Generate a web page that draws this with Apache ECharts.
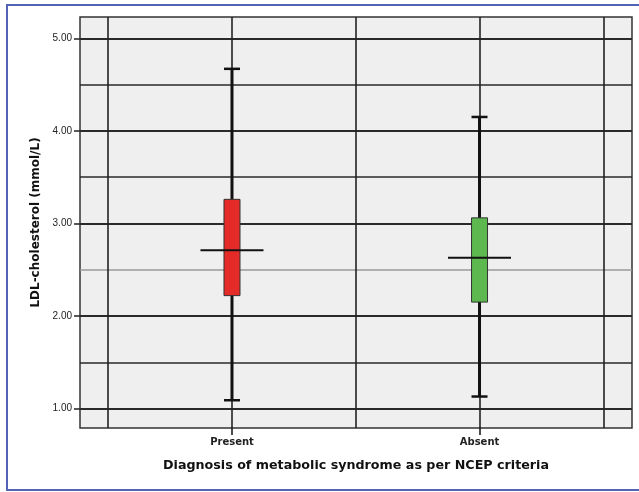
<!DOCTYPE html>
<html>
<head>
<meta charset="utf-8">
<script src="https://cdn.jsdelivr.net/npm/echarts@6/dist/echarts.min.js"></script>
<style>
  html, body { margin: 0; padding: 0; background: #fff; }
  #main { width: 639px; height: 492px; }
</style>
</head>
<body>
<div id="main"></div>
<script>
// groups on the x axis (placed at 1 and 2)
var categories = ['Present', 'Absent'];
var boxColors = ['#e42b27', '#5cb84f'];

// (mmol/L)
var meanValues = [2.71, 2.63];
var boxLow = [2.22, 2.15];
var boxHigh = [3.26, 3.06];
var whiskerLow = [1.09, 1.13];
var whiskerHigh = [4.67, 4.15];

var yTickLabels = [1, 2, 3, 4, 5];
var yGridLines = [1, 1.5, 2, 2.5, 3, 3.5, 4, 4.5, 5];
var xGridLines = [0.5, 1, 1.5, 2, 2.5];

var font = 'Liberation Sans, Arial, sans-serif';
var titleFont = 'DejaVu Sans, Verdana, sans-serif';

var seriesData = categories.map(function (c, i) {
    return [i + 1, meanValues[i], boxLow[i], boxHigh[i], whiskerLow[i], whiskerHigh[i]];
});

function renderItem(params, api) {
    var x = api.value(0);
    var top = api.coord([x, api.value(5)]);
    var bot = api.coord([x, api.value(4)]);
    var bTop = api.coord([x, api.value(3)]);
    var bBot = api.coord([x, api.value(2)]);
    var mid = api.coord([x, api.value(1)]);
    var cx = top[0];
    var bw = 16, cap = 16, mw = 63;
    return {
        type: 'group',
        children: [
            { type: 'line', shape: { x1: cx, y1: top[1], x2: cx, y2: bot[1] }, style: { stroke: '#111', lineWidth: 3 } },
            { type: 'line', shape: { x1: cx - cap / 2, y1: top[1], x2: cx + cap / 2, y2: top[1] }, style: { stroke: '#111', lineWidth: 2.5 } },
            { type: 'line', shape: { x1: cx - cap / 2, y1: bot[1], x2: cx + cap / 2, y2: bot[1] }, style: { stroke: '#111', lineWidth: 2.5 } },
            { type: 'rect', shape: { x: cx - bw / 2, y: bTop[1], width: bw, height: bBot[1] - bTop[1] },
              style: { fill: boxColors[params.dataIndex], stroke: '#333', lineWidth: 1 } },
            { type: 'line', shape: { x1: cx - mw / 2, y1: mid[1], x2: cx + mw / 2, y2: mid[1] }, style: { stroke: '#111', lineWidth: 2 } }
        ]
    };
}

var dom = document.getElementById('main');
var myChart = echarts.init(dom, null, { renderer: 'canvas' });

var gridMarks = [];
yGridLines.forEach(function (v) {
    var isInt = v % 1 === 0;
    gridMarks.push({
        yAxis: v,
        lineStyle: { color: v === 2.5 ? '#9a9a9a' : '#2a2a2a', width: isInt ? 2 : 1.6, type: 'solid' }
    });
});
xGridLines.forEach(function (v) {
    gridMarks.push({ xAxis: v, lineStyle: { color: '#222', width: 1.6, type: 'solid' } });
});

var option = {
    backgroundColor: '#fff',
    animation: false,
    textStyle: { fontFamily: font },
    graphic: [
        {
            // outer frame; right side runs off the picture
            type: 'rect',
            shape: { x: 7, y: 5, width: 640, height: 485 },
            style: { fill: 'none', stroke: '#5563b5', lineWidth: 2 },
            z: 100
        }
    ],
    grid: {
        left: 80, right: 7, top: 17, bottom: 64,
        show: true,
        backgroundColor: '#efefef',
        borderColor: '#333',
        borderWidth: 1.5
    },
    xAxis: {
        type: 'value',
        min: 0.386,
        max: 2.616,
        name: 'Diagnosis of metabolic syndrome as per NCEP criteria',
        nameLocation: 'middle',
        nameGap: 31,
        nameTextStyle: { fontSize: 12.7, fontWeight: 'bold', color: '#111', fontFamily: titleFont },
        axisLine: { show: false },
        splitLine: { show: false },
        axisTick: { show: true, customValues: [1, 2], length: 7, lineStyle: { color: '#111', width: 1.5 } },
        axisLabel: {
            customValues: [1, 2],
            formatter: function (v) { return categories[Math.round(v) - 1]; },
            fontSize: 10, fontWeight: 'bold', color: '#222', margin: 9, fontFamily: titleFont
        }
    },
    yAxis: {
        type: 'value',
        min: 0.79,
        max: 5.23,
        name: 'LDL-cholesterol (mmol/L)',
        nameLocation: 'middle',
        nameGap: 30,
        nameTextStyle: { fontSize: 12, fontWeight: 'bold', color: '#111', fontFamily: titleFont },
        axisLine: { show: false },
        splitLine: { show: false },
        axisTick: { show: true, customValues: yTickLabels, length: 6, lineStyle: { color: '#222', width: 1.5 } },
        axisLabel: {
            customValues: yTickLabels,
            formatter: function (v) { return v.toFixed(2); },
            fontSize: 10, color: '#222', margin: 8
        }
    },
    series: [
        {
            type: 'line',
            data: [],
            z: 1,
            silent: true,
            markLine: {
                silent: true,
                symbol: 'none',
                label: { show: false },
                data: gridMarks
            }
        },
        {
            type: 'custom',
            z: 5,
            renderItem: renderItem,
            encode: { x: 0, y: 1 },
            data: seriesData
        }
    ]
};

myChart.setOption(option);
window.addEventListener('resize', myChart.resize);
</script>
</body>
</html>
